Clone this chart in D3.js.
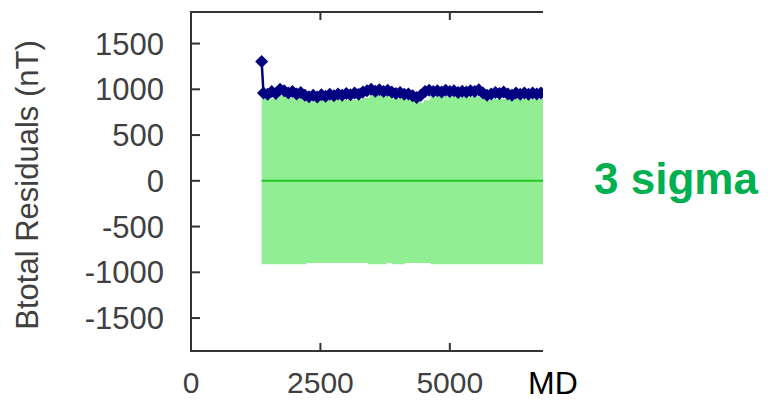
<!DOCTYPE html>
<html>
<head>
<meta charset="utf-8">
<title>Btotal residuals</title>
<script src="https://cdn.jsdelivr.net/npm/d3@7"></script>
<style>
    body { margin: 0; background: #fff; }
    svg { display: block; font-family: "Liberation Sans", Arial, sans-serif; }
</style>
</head>
<body>
<svg width="775" height="400"></svg>
<script>
    // measured depth (MD) and Btotal residual (nT)
    const md = [1365, 1400, 1480, 1560, 1640, 1720, 1800, 1880, 1960, 2040, 2120,
        2200, 2280, 2360, 2440, 2520, 2600, 2680, 2760, 2840, 2920,
        3000, 3080, 3160, 3240, 3320, 3400, 3480, 3560, 3640, 3720,
        3800, 3880, 3960, 4040, 4120, 4200, 4280, 4360, 4440, 4520,
        4600, 4680, 4760, 4840, 4920, 5000, 5080, 5160, 5240, 5320,
        5400, 5480, 5560, 5640, 5720, 5800, 5880, 5960, 6040, 6120,
        6200, 6280, 6360, 6440, 6520, 6600, 6680, 6760, 6840];
    const residual = [1305, 960, 945, 975, 955, 1000, 985, 960, 975, 950, 965,
        935, 920, 935, 915, 940, 925, 945, 930, 950, 935,
        955, 940, 960, 945, 970, 985, 1000, 980, 995, 975,
        990, 970, 955, 965, 945, 950, 930, 910, 935, 975,
        990, 975, 985, 970, 990, 975, 985, 965, 980, 970,
        985, 975, 995, 960, 935, 950, 965, 955, 970, 950,
        935, 960, 945, 960, 945, 960, 950, 960, 950];

    // 3 sigma envelope
    const upperMD = [1365, 1700, 1900, 2200, 2500, 3300, 3450, 3950, 4250, 4450, 4500, 4620, 5600, 5680, 5800, 6840];
    const upper = [900, 930, 905, 870, 885, 905, 935, 900, 880, 850, 880, 925, 900, 880, 895, 895];
    const lowerMD = [1365, 2230, 3420, 3780, 3880, 4130, 4620, 6840];
    const lower = [-911, -898, -911, -898, -911, -898, -911, -911];

    const xTicks = [0, 2500, 5000];
    const yTicks = [-1500, -1000, -500, 0, 500, 1000, 1500];

    const svg = d3.select("svg");
    const pLeft = 191, pRight = 543, pTop = 12, pBottom = 351;

    const x = d3.scaleLinear().domain([0, 6800]).range([pLeft, pRight]);
    const y = d3.scaleLinear().domain([-1860, 1845]).range([pBottom, pTop]);

    svg.append("clipPath").attr("id", "plot")
        .append("rect").attr("x", pLeft).attr("y", pTop)
        .attr("width", pRight - pLeft).attr("height", pBottom - pTop);

    const g = svg.append("g").attr("clip-path", "url(#plot)");

    // green band
    const upArea = d3.area().curve(d3.curveStepAfter)
        .x(function(d, i) { return x(upperMD[i]); })
        .y0(y(0)).y1(function(d) { return y(d); });
    const lowArea = d3.area().curve(d3.curveStepAfter)
        .x(function(d, i) { return x(lowerMD[i]); })
        .y0(y(0)).y1(function(d) { return y(d); });
    g.append("path").attr("d", upArea(upper)).attr("fill", "#92ee92");
    g.append("path").attr("d", lowArea(lower)).attr("fill", "#92ee92");

    g.append("line")
        .attr("x1", x(md[0])).attr("x2", x(6840))
        .attr("y1", y(0)).attr("y2", y(0))
        .attr("stroke", "#26c626").attr("stroke-width", 2);

    // residual line + diamonds
    const line = d3.line()
        .x(function(d, i) { return x(md[i]); })
        .y(function(d) { return y(d); });
    g.append("path").attr("d", line(residual))
        .attr("fill", "none").attr("stroke", "#000080").attr("stroke-width", 2.5);

    const s = 6.5;
    g.selectAll("path.mk").data(residual).enter().append("path")
        .attr("class", "mk")
        .attr("d", "M0," + (-s) + "L" + s + ",0L0," + s + "L" + (-s) + ",0Z")
        .attr("transform", function(d, i) { return "translate(" + x(md[i]) + "," + y(d) + ")"; })
        .attr("fill", "#000080");

    // frame
    const ax = svg.append("g").attr("stroke", "#333").attr("stroke-width", 2).attr("fill", "none");
    ax.append("path").attr("d", "M" + pRight + "," + pTop + "H" + pLeft + "V" + pBottom + "H" + pRight);

    ax.selectAll("line.yt").data(yTicks).enter().append("line")
        .attr("x1", pLeft).attr("x2", pLeft + 9)
        .attr("y1", function(d) { return y(d); }).attr("y2", function(d) { return y(d); });
    ax.selectAll("line.xb").data(xTicks.slice(1)).enter().append("line")
        .attr("x1", function(d) { return x(d); }).attr("x2", function(d) { return x(d); })
        .attr("y1", pBottom).attr("y2", pBottom - 8);
    ax.selectAll("line.xt").data(xTicks.slice(1)).enter().append("line")
        .attr("x1", function(d) { return x(d); }).attr("x2", function(d) { return x(d); })
        .attr("y1", pTop).attr("y2", pTop + 8);

    // tick labels
    svg.selectAll("text.yl").data(yTicks).enter().append("text")
        .attr("x", 164).attr("y", function(d) { return y(d) + 11; })
        .attr("text-anchor", "end").attr("font-size", 31).attr("fill", "#404040")
        .text(function(d) { return d; });
    svg.selectAll("text.xl").data(xTicks).enter().append("text")
        .attr("x", function(d) { return x(d); }).attr("y", 393)
        .attr("text-anchor", "middle").attr("font-size", 30).attr("fill", "#404040")
        .text(function(d) { return d; });

    svg.append("text").attr("x", 528).attr("y", 394)
        .attr("font-size", 32).attr("fill", "#000").text("MD");

    svg.append("text")
        .attr("transform", "translate(38,185) rotate(-90)")
        .attr("text-anchor", "middle").attr("font-size", 31).attr("fill", "#404040")
        .text("Btotal Residuals (nT)");

    svg.append("text").attr("x", 594).attr("y", 194)
        .attr("font-size", 44).attr("font-weight", "bold").attr("fill", "#00b050")
        .text("3 sigma");
</script>
</body>
</html>
